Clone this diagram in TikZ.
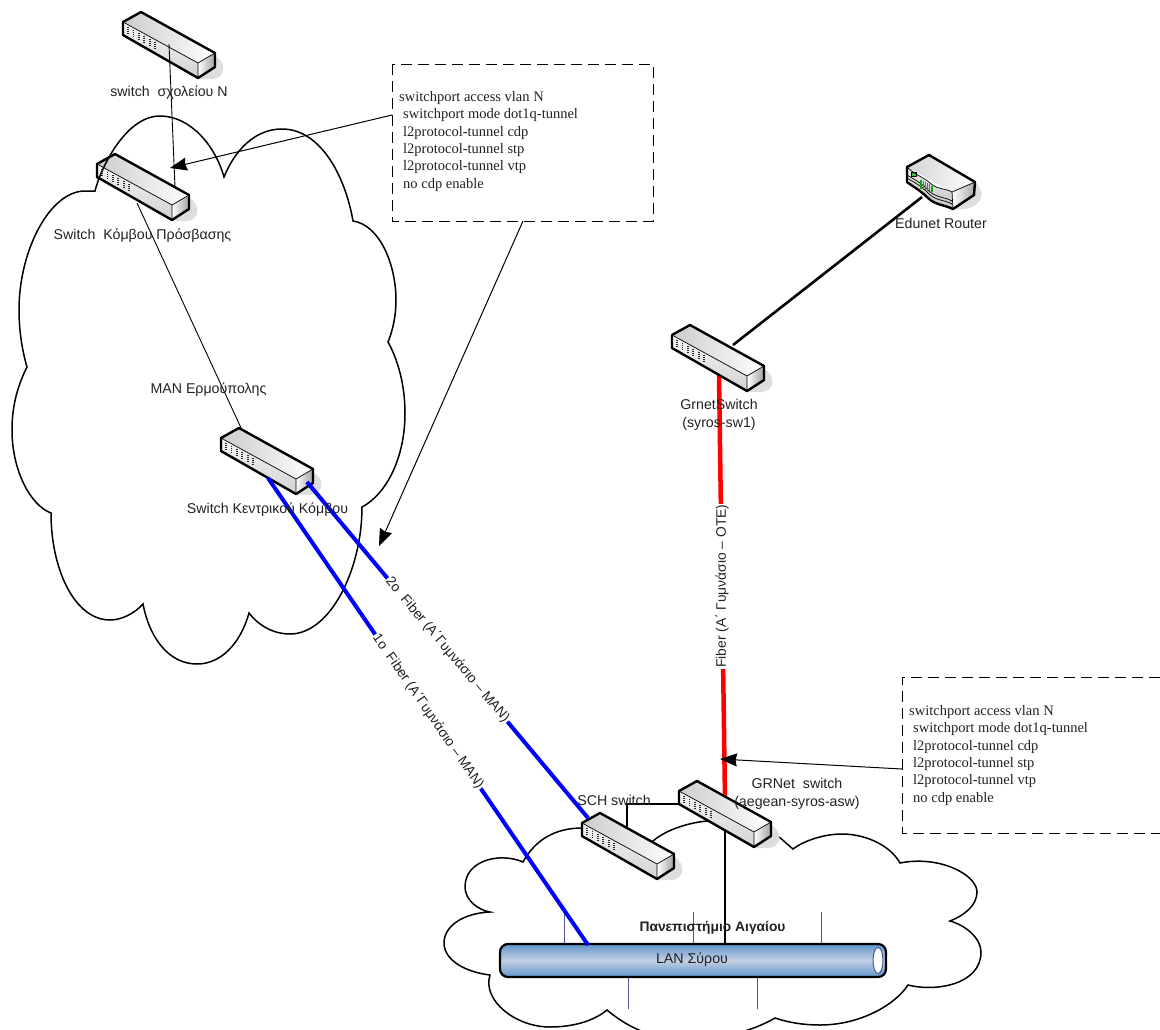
\documentclass[tikz,border=0pt]{standalone}
\usepackage{fontspec}
\setmainfont{Liberation Sans}
\newfontfamily\boxfont{Liberation Serif}
\usetikzlibrary{arrows.meta}
\definecolor{txt}{HTML}{222222}
\definecolor{stub}{HTML}{55559A}
\definecolor{lanblue}{HTML}{5F95CC}
\definecolor{lanmid}{HTML}{C4CFE2}
\definecolor{shadowc}{HTML}{DEDEDE}
\tikzset{
  x=1pt,y=-1pt,
  lbl/.style={font=\fontsize{14.2}{18}\selectfont,text=txt,inner sep=0pt,align=center},
  fiberlbl/.style={font=\fontsize{13.8}{16}\selectfont,text=txt,fill=white,inner sep=1pt},
  cfgtext/.style={font=\boxfont\fontsize{14.5}{17.4}\selectfont,text=txt,inner sep=0pt,align=left,anchor=north west},
  cfgbox/.style={draw=black,line width=1pt,dash pattern=on 11pt off 6pt},
  cloudline/.style={draw=black,line width=1.5pt,line join=miter},
  thinlink/.style={draw=black,line width=0.9pt},
  blacklink/.style={draw=black,line width=2.6pt},
  bluelink/.style={draw=blue,line width=4pt},
  redlink/.style={draw=red,line width=4.5pt},
  annot/.style={draw=black,line width=1pt,-{Stealth[length=17pt,width=13pt,inset=1.5pt]}},
  stubline/.style={draw=stub,line width=1pt},
  netswitch/.pic={
    \fill[shadowc] (76,57) -- (90,57) .. controls (103,56) and (104,40) .. (92,34) -- cycle;
    \shade[left color=gray!40,right color=white] (0,0) -- (18,-10) -- (92,31) -- (75,41) -- cycle;
    \shade[top color=gray!8,bottom color=gray!35] (0,0) -- (75,41) -- (75,56) -- (0,13) -- cycle;
    \shade[left color=white,right color=gray!75] (75,41) -- (92,31) -- (92,45) -- (75,56) -- cycle;
    \draw[line width=0.7pt] (0,0) -- (75,41) -- (92,31) (75,41) -- (75,56);
    \foreach \i in {0,...,5}
      \draw[line width=1.8pt,black!85,dash pattern=on 1.6pt off .5pt] (5+5.4*\i,4.5+3*\i) -- (5+5.4*\i,12+3*\i);
    \draw[line width=2.4pt,line join=round] (0,0) -- (18,-10) -- (92,31) -- (92,45) -- (75,56) -- (0,13) -- cycle;
  },
}
\begin{document}
\begin{tikzpicture}
\useasboundingbox (0,0) rectangle (1160,1029);
\fill[white] (0,0) rectangle (1160,1029);

% upper switches, the cloud runs over the second one
\pic at (123,22) {netswitch};
\pic at (97,164) {netswitch};
\draw[cloudline]
  (95,191) .. controls (100,170) and (125,116) .. (160,116)
  .. controls (190,116) and (215,145) .. (224,177)
  .. controls (235,150) and (255,129) .. (282,129)
  .. controls (320,129) and (345,175) .. (353,221)
  .. controls (380,225) and (396,265) .. (396,300)
  .. controls (396,315) and (393,330) .. (388,342)
  .. controls (398,360) and (405,385) .. (405,413)
  .. controls (405,460) and (385,495) .. (362,507)
  .. controls (362,570) and (330,634) .. (290,634)
  .. controls (273,634) and (258,625) .. (249,613)
  .. controls (240,645) and (220,664) .. (197,664)
  .. controls (170,664) and (150,640) .. (143,604)
  .. controls (135,613) and (122,620) .. (110,620)
  .. controls (75,620) and (51,570) .. (51,513)
  .. controls (30,505) and (12,470) .. (12,430)
  .. controls (12,405) and (18,385) .. (27,367)
  .. controls (22,350) and (19,330) .. (19,310)
  .. controls (19,250) and (50,191) .. (85,191) -- cycle;

% lower cloud
\draw[cloudline]
  (582,828) .. controls (555,828) and (535,840) .. (523,862)
  .. controls (500,852) and (465,860) .. (465,887)
  .. controls (465,900) and (478,910) .. (490,912)
  .. controls (465,913) and (444,925) .. (444,943)
  .. controls (444,960) and (465,972) .. (490,975)
  .. controls (482,1000) and (515,1027) .. (550,1027)
  .. controls (575,1027) and (595,1020) .. (607,1010)
  .. controls (625,1025) and (650,1040) .. (690,1040)
  .. controls (720,1040) and (755,1030) .. (775,1018)
  .. controls (790,1023) and (805,1025) .. (820,1025)
  .. controls (860,1025) and (895,1005) .. (908,985)
  .. controls (935,992) and (981,985) .. (981,952)
  .. controls (981,938) and (965,925) .. (950,921)
  .. controls (965,915) and (977,905) .. (977,892)
  .. controls (977,875) and (940,855) .. (900,863)
  .. controls (890,845) and (865,834) .. (842,834)
  .. controls (825,834) and (805,840) .. (793,849)
  .. controls (788,845) and (783,840) .. (779,837)
  -- (745,825) -- (707,821)
  .. controls (685,823) and (662,832) .. (652,842)
  -- (620,840) -- cycle;

% LAN stubs and cylinder
\coordinate (st1a) at (564,912); \coordinate (st1b) at (564,945);
\coordinate (st2a) at (693,912); \coordinate (st2b) at (693,945);
\coordinate (st3a) at (821,912); \coordinate (st3b) at (821,945);
\coordinate (st4a) at (628,977); \coordinate (st4b) at (628,1009);
\coordinate (st5a) at (757,977); \coordinate (st5b) at (757,1009);
\foreach \k in {1,...,5} \draw[stubline] (st\k a) -- (st\k b);
\shade[top color=lanblue,bottom color=lanblue,middle color=lanmid,rounded corners=8pt]
  (500,944) rectangle (886,977);
\draw[line width=2.2pt,rounded corners=8pt] (500,944) rectangle (886,977);
\draw[stub,fill=white,line width=1pt] (878,960.5) ellipse [x radius=5,y radius=13];

% connectors under the switches
\coordinate (edge1) at (733,345);
\coordinate (edge2) at (922,197);
\coordinate (grn1) at (719,375);
\coordinate (grn2) at (725,800);
\coordinate (sch1) at (627,832);
\coordinate (sch2) at (682,804);
\coordinate (lan1) at (725,825);
\coordinate (lan2) at (725,945);
\draw[blacklink] (edge1) -- (edge2);
\draw[redlink] (grn1) -- node[pos=0.497,fiberlbl,rotate=90,inner ysep=3pt] {Fiber (Α΄ Γυμνάσιο – OTE)} (grn2);
\draw[blacklink] (sch1) |- (sch2);
\draw[blacklink] (lan1) -- (lan2);

% remaining switches
\pic at (221,438) {netswitch};
\pic at (672,335) {netswitch};
\pic at (679,791) {netswitch};
\pic at (582,823) {netswitch};

% router
\fill[shadowc] (950,209) -- (965,209) .. controls (985,205) and (985,190) .. (975,182) -- cycle;
\shade[left color=gray!35,right color=white] (907,167) -- (929,155) -- (975,182) -- (952,192) -- cycle;
\shade[left color=white,right color=gray!70] (952,192) -- (975,182) -- (974,195) -- (953,209) -- cycle;
\shade[top color=gray!15,bottom color=gray!45] (907,167) .. controls (915,175) and (925,178) .. (930,183) .. controls (938,190) and (945,188) .. (952,192) -- (953,209) .. controls (945,205) and (935,205) .. (928,198) .. controls (920,190) and (915,188) .. (907,182) -- cycle;
\draw[line width=.7pt] (907,175) .. controls (915,180) and (922,183) .. (930,192) .. controls (938,198) and (945,197) .. (952,201);
\draw[line width=.7pt] (907,178) .. controls (915,183) and (922,186) .. (930,195) .. controls (938,201) and (945,200) .. (952,204);
\fill[green!60!black!70,draw=black,line width=.4pt] (911,172) rectangle (916,176);
\foreach \i in {0,...,5}
  \draw[green!70!black,line width=1.2pt] (921+2.2*\i,180+1.1*\i) -- (921+2.2*\i,189+.6*\i);
\draw[line width=.7pt] (907,167) .. controls (915,175) and (925,178) .. (930,183) .. controls (938,190) and (945,188) .. (952,192) -- (975,182) (952,192) -- (953,209);
\draw[line width=2.4pt,line join=round] (907,167) -- (929,155) -- (975,182) -- (974,195) -- (953,209) .. controls (945,205) and (935,205) .. (928,198) .. controls (920,190) and (915,188) .. (907,182) -- cycle;

% connectors over the switches
\coordinate (sw1a) at (169,44);
\coordinate (sw2a) at (175,187);
\coordinate (sw2b) at (137,203);
\coordinate (sw3a) at (242,430);
\coordinate (sw3b) at (268,478);
\coordinate (sw3c) at (307,482);
\coordinate (lanb) at (588,945);
\coordinate (schb) at (588,818);
\draw[thinlink] (sw1a) -- (sw2a);
\draw[thinlink] (sw2b) -- (sw3a);
\draw[bluelink] (sw3b) -- node[pos=0.5,fiberlbl,rotate=-55.3] {1ο\ \ Fiber (Α΄Γυμνάσιο – MAN)} (lanb);
\draw[bluelink] (sw3c) -- node[pos=0.5,fiberlbl,rotate=-50] {2ο\ \ Fiber (Α΄Γυμνάσιο – MAN)} (schb);

% config boxes
\draw[cfgbox] (392,64) rectangle (653,221);
\node[cfgtext] (cfgA) at (399,91) {switchport access vlan N\\\hspace*{4pt}switchport mode dot1q-tunnel\\\hspace*{4pt}l2protocol-tunnel cdp\\\hspace*{4pt}l2protocol-tunnel stp\\\hspace*{4pt}l2protocol-tunnel vtp\\\hspace*{4pt}no cdp enable};
\draw[cfgbox] (1160,677) -- (902,677) -- (902,833) -- (1160,833);
\node[cfgtext] (cfgB) at (909,705) {switchport access vlan N\\\hspace*{4pt}switchport mode dot1q-tunnel\\\hspace*{4pt}l2protocol-tunnel cdp\\\hspace*{4pt}l2protocol-tunnel stp\\\hspace*{4pt}l2protocol-tunnel vtp\\\hspace*{4pt}no cdp enable};
\coordinate (a1s) at (392,115); \coordinate (a1e) at (170,168);
\coordinate (a2s) at (523,221); \coordinate (a2e) at (379,546);
\coordinate (a3s) at (902,769); \coordinate (a3e) at (720,759);
\draw[annot] (a1s) -- (a1e);
\draw[annot] (a2s) -- (a2e);
\draw[annot] (a3s) -- (a3e);

% labels
\node[lbl] (t1) at (169,93) {switch\ \ σχολείου Ν};
\node[lbl] (t2) at (142.5,236) {Switch\ \ Κόμβου Πρόσβασης};
\node[lbl] (t3) at (208.5,390) {MAN Ερμούπολης};
\node[lbl] (t4) at (267.5,510) {Switch Κεντρικού Κόμβου};
\node[lbl] (t5) at (719,414.5) {GrnetSwitch\\(syros-sw1)};
\node[lbl] (t6) at (941,223) {Edunet Router};
\node[lbl] (t7) at (797,794) {GRNet\ \ switch\\(aegean-syros-asw)};
\node[lbl] (t8) at (614,800) {SCH switch};
\node[lbl,font=\fontsize{13.8}{16}\selectfont\bfseries] (t9) at (712.5,928) {Πανεπιστήμιο Αιγαίου};
\node[lbl] (t10) at (692,960) {LAN Σύρου};
\end{tikzpicture}
\end{document}
